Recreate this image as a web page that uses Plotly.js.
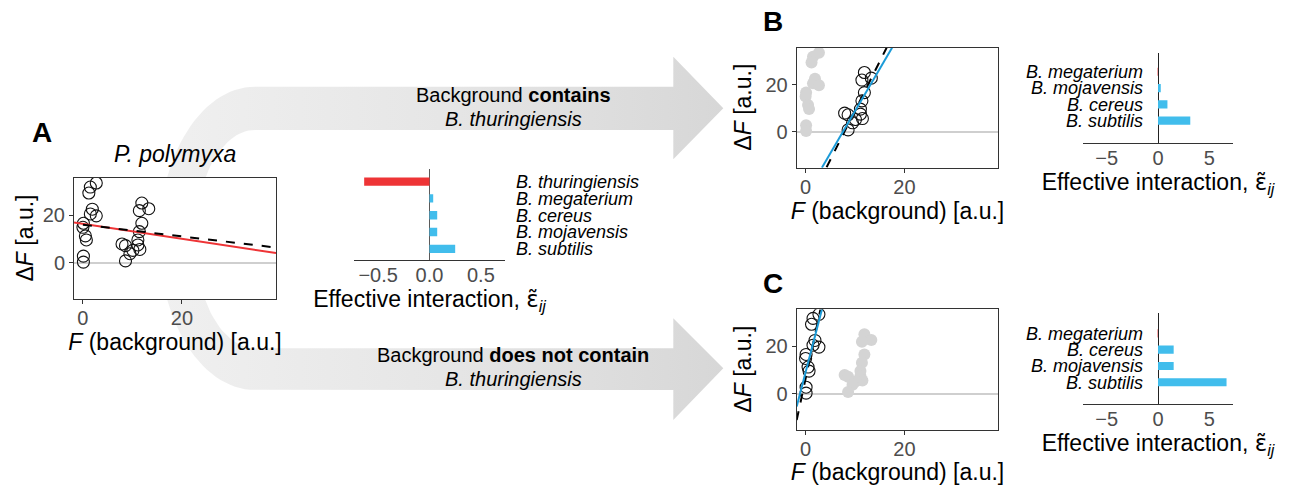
<!DOCTYPE html>
<html>
<head>
<meta charset="utf-8">
<script src="https://cdn.plot.ly/plotly-3.0.1.min.js"></script>
<style>html,body{margin:0;padding:0;background:#fff;}#chart{width:1294px;height:485px;}</style>
</head>
<body>
<div id="chart"></div>
<script>
// ---------------- data ----------------
const leftClusterX  = [2.7, 1.5, 1.2, 1.9, 1.5, 2.7, 0.1, 0.0, 0.5, 0.7, 0.1, 0.1];
const leftClusterY  = [33.5, 31.8, 29.3, 22.5, 20.5, 19.7, 16.6, 14.9, 11.3, 9.6, 2.8, 0.3];
const rightClusterX = [11.9, 13.3, 11.4, 11.9, 11.4, 11.1, 11.1, 11.5, 7.9, 8.6, 10.1, 9.5, 8.6];
const rightClusterY = [25.1, 22.7, 21.9, 16.6, 13.1, 9.6, 7.5, 5.6, 7.9, 7.2, 5.2, 3.8, 0.8];

// fitted lines (end points)
const fitA_x = [-1.8, 39];   const fitA_y = [16.9, 4.1];
const nullA_x = [0, 39];     const nullA_y = [16.0, 6.4];
const fitB_x = [3.3, 17.5];  const fitB_y = [-15.2, 35.6];
const nullB_x = [4.25, 16.4]; const nullB_y = [-15.0, 35.6];
const fitC_x = [-1.8, 3.3];  const fitC_y = [-5.3, 35.5];
const nullC_x = [-1.8, 3.0]; const nullC_y = [-11.0, 35.5];

// effective interactions (top to bottom)
const speciesA = ['B. thuringiensis', 'B. megaterium', 'B. cereus', 'B. mojavensis', 'B. subtilis'];
const epsA     = [-0.636, 0.036, 0.075, 0.075, 0.25];
const speciesB = ['B. megaterium', 'B. mojavensis', 'B. cereus', 'B. subtilis'];
const epsB     = [-0.04, 0.27, 0.92, 3.15];
const speciesC = ['B. megaterium', 'B. cereus', 'B. mojavensis', 'B. subtilis'];
const epsC     = [-0.04, 1.53, 1.53, 6.69];

const scatterTicks = [0, 20];
const barTicksA = [-0.5, 0, 0.5];
const barTicksBC = [-5, 0, 5];

// ---------------- style / layout helpers ----------------
const W = 1294, H = 485;
const fx = px => px / W;
const fy = py => 1 - py / H;
const FONT = 'Liberation Sans, Arial, Helvetica, sans-serif';
const RED = '#ee3436', BLUE_BAR = '#41bdec', BLUE_LINE = '#1b9bd8', GREY_PT = '#d4d4d4';

// decorative double arrow (pixel geometry on an overlay axis)
function arrowPath() {
  const xs = [], ys = [];
  const cx = 255, headBase = 673.3, tip = 723.3;
  const topO = 86.7, topI = 130, botI = 348.3, botO = 390;
  const aO = 96, aI = 60;
  const cyO = (topO + botO) / 2, bO = (botO - topO) / 2;
  const cyI = (topI + botI) / 2, bI = (botI - topI) / 2;
  const push = (x, y) => { xs.push(x); ys.push(y); };
  push(cx, topO); push(headBase, topO); push(headBase, 56.7); push(tip, 108.3);
  push(headBase, 159.3); push(headBase, topI); push(cx, topI);
  for (let i = 0; i <= 60; i++) { const t = -Math.PI / 2 + Math.PI * i / 60; push(cx - aI * Math.cos(t), cyI + bI * Math.sin(t)); }
  push(headBase, botI); push(headBase, 318.3); push(tip, 368.3); push(headBase, 420);
  push(headBase, botO); push(cx, botO);
  for (let i = 0; i <= 60; i++) { const t = Math.PI / 2 - Math.PI * i / 60; push(cx - aO * Math.cos(t), cyO + bO * Math.sin(t)); }
  return [xs, ys];
}
const [arrX, arrY] = arrowPath();

const traces = [];
traces.push({type: 'scatter', x: arrX, y: arrY, xaxis: 'x', yaxis: 'y', mode: 'lines',
  line: {width: 0, color: 'rgba(0,0,0,0)'}, fill: 'toself',
  fillgradient: {type: 'horizontal', colorscale: [[0, '#f0f0f0'], [0.5, '#e6e6e6'], [1, '#d7d7d7']], start: 159, stop: 723},
  hoverinfo: 'skip'});

function openPts(x, y, ax) {
  return {type: 'scatter', mode: 'markers', x: x, y: y, xaxis: 'x' + ax, yaxis: 'y' + ax,
    marker: {symbol: 'circle-open', size: 12, color: '#111', line: {width: 1.1, color: '#111'}}, hoverinfo: 'skip'};
}
function greyPts(x, y, ax) {
  return {type: 'scatter', mode: 'markers', x: x, y: y, xaxis: 'x' + ax, yaxis: 'y' + ax,
    marker: {symbol: 'circle', size: 12, color: GREY_PT}, hoverinfo: 'skip'};
}
function line(x, y, ax, color, dash, width) {
  return {type: 'scatter', mode: 'lines', x: x, y: y, xaxis: 'x' + ax, yaxis: 'y' + ax,
    line: {color: color, dash: dash, width: width}, hoverinfo: 'skip'};
}
function bars(vals, cats, ax) {
  return {type: 'bar', orientation: 'h', x: vals, y: cats, xaxis: 'x' + ax, yaxis: 'y' + ax, width: 0.5,
    marker: {color: vals.map(v => v < 0 ? RED : BLUE_BAR), line: {width: 0}}, hoverinfo: 'skip'};
}

// Panel A
traces.push(openPts(leftClusterX.concat(rightClusterX), leftClusterY.concat(rightClusterY), 2));
traces.push(line(fitA_x, fitA_y, 2, RED, 'solid', 2));
traces.push(line(nullA_x, nullA_y, 2, '#000', 'dash', 2));
traces.push(bars(epsA, speciesA, 3));
// Panel B
traces.push(greyPts(leftClusterX, leftClusterY, 4));
traces.push(openPts(rightClusterX, rightClusterY, 4));
traces.push(line(nullB_x, nullB_y, 4, '#000', 'dash', 2));
traces.push(line(fitB_x, fitB_y, 4, BLUE_LINE, 'solid', 2));
traces.push(bars(epsB, speciesB, 5));
// Panel C
traces.push(greyPts(rightClusterX, rightClusterY, 6));
traces.push(openPts(leftClusterX, leftClusterY, 6));
traces.push(line(nullC_x, nullC_y, 6, '#000', 'dash', 2));
traces.push(line(fitC_x, fitC_y, 6, BLUE_LINE, 'solid', 2));
traces.push(bars(epsC, speciesC, 7));

function scatterX(dom, anchor) {
  return {domain: dom, anchor: anchor, range: [-1.8, 39], tickmode: 'array', tickvals: scatterTicks,
    ticks: 'outside', ticklen: 4, tickwidth: 1, tickcolor: '#333', showline: true, mirror: true,
    linecolor: '#333', linewidth: 1, showgrid: false, zeroline: false, automargin: false, ticklabelstandoff: -3,
    tickfont: {size: 20, color: '#4d4d4d', family: FONT},
    title: {text: '<i>F</i> (background) [a.u.]', font: {size: 23, color: '#000', family: FONT}, standoff: 0}};
}
function scatterY(dom, anchor) {
  return {domain: dom, anchor: anchor, range: [-15.2, 35.6], tickmode: 'array', tickvals: scatterTicks,
    ticks: 'outside', ticklen: 4, tickwidth: 1, tickcolor: '#333', showline: true, mirror: true,
    linecolor: '#333', linewidth: 1, showgrid: false, zeroline: true, zerolinecolor: '#cfcfcf', zerolinewidth: 1.5,
    automargin: false, tickfont: {size: 20, color: '#4d4d4d', family: FONT}};
}
const barTitle = 'Effective interaction, <span style="font-family:DejaVu Sans">ε\u0303</span><sub><i>ij</i></sub>';
function barX(dom, anchor, range, tickvals, fmt, zc, zw) {
  return {domain: dom, anchor: anchor, range: range, tickmode: 'array', tickvals: tickvals, tickformat: fmt,
    ticks: '', showline: true, linecolor: '#333', linewidth: 1, showgrid: false,
    zeroline: true, zerolinecolor: zc, zerolinewidth: zw, automargin: false, ticklabelstandoff: -3,
    tickfont: {size: 20, color: '#4d4d4d', family: FONT},
    title: {text: barTitle, font: {size: 23, color: '#000', family: FONT}, standoff: 0}};
}
function barY(dom, cats, range, extra) {
  const rev = cats.slice().reverse();
  return Object.assign({domain: dom, type: 'category', categoryorder: 'array', categoryarray: rev, range: range,
    tickmode: 'array', tickvals: rev, ticktext: rev, ticks: '', showline: false, showgrid: false, zeroline: false,
    automargin: false, tickfont: {size: 18, color: '#000', family: FONT, style: 'italic'}}, extra);
}

const dA = [fx(74), fx(276)], dAy = [fy(299), fy(178)];
const dAb = [fx(354), fx(505)], dAby = [fy(260), fy(169.3)];
const dB = [fx(796.7), fx(998.3)], dBy = [fy(167.7), fy(47.7)];
const dBb = [fx(1082.7), fx(1233.3)], dBby = [fy(143.3), fy(52.7)];
const dCy = [fy(430), fy(309.3)];
const dCby = [fy(404.3), fy(313.3)];

function ann(text, px, py, size, opts) {
  return Object.assign({text: text, x: fx(px), y: fy(py), xref: 'paper', yref: 'paper', showarrow: false,
    xanchor: 'center', yanchor: 'middle', font: {size: size, color: '#000', family: FONT}}, opts || {});
}

const layout = {
  width: W, height: H, margin: {l: 0, r: 0, t: 0, b: 0}, paper_bgcolor: '#fff', plot_bgcolor: '#fff',
  showlegend: false, hovermode: false, font: {family: FONT},
  xaxis: {domain: [0, 1], range: [0, W], visible: false, fixedrange: true},
  yaxis: {domain: [0, 1], range: [H, 0], visible: false, fixedrange: true},
  xaxis2: scatterX(dA, 'y2'), yaxis2: scatterY(dAy, 'x2'),
  xaxis3: barX(dAb, 'y3', [-0.735, 0.735], barTicksA, '.1f', '#5a5a5a', 1.8),
  yaxis3: barY(dAby, speciesA, [-0.66, 4.73], {anchor: 'x3', side: 'right', ticklabelstandoff: 10}),
  xaxis4: scatterX(dB, 'y4'), yaxis4: scatterY(dBy, 'x4'),
  xaxis5: barX(dBb, 'y5', [-7.35, 7.35], barTicksBC, 'd', '#222', 1),
  yaxis5: barY(dBby, speciesB, [-1.39, 4.17], {anchor: 'free', position: (dBb[0] + dBb[1]) / 2, side: 'left', ticklabelstandoff: 15}),
  xaxis6: scatterX(dB, 'y6'), yaxis6: scatterY(dCy, 'x6'),
  xaxis7: barX(dBb, 'y7', [-7.35, 7.35], barTicksBC, 'd', '#222', 1),
  yaxis7: barY(dCby, speciesC, [-1.35, 4.23], {anchor: 'free', position: (dBb[0] + dBb[1]) / 2, side: 'left', ticklabelstandoff: 15}),
  annotations: [
    ann('<b>A</b>', 30, 132.7, 28, {xanchor: 'left'}),
    ann('<b>B</b>', 761, 21.3, 28, {xanchor: 'left'}),
    ann('<b>C</b>', 761, 283.8, 28, {xanchor: 'left'}),
    ann('<i>P. polymyxa</i>', 175, 154, 23),
    ann('Background <b>contains</b>', 513, 94.8, 20),
    ann('<i>B. thuringiensis</i>', 513, 119.1, 20),
    ann('Background <b>does not contain</b>', 513, 354.8, 20),
    ann('<i>B. thuringiensis</i>', 513, 379.1, 20),
    ann('Δ<i>F</i> [a.u.]', 24, 238.5, 23, {textangle: -90}),
    ann('Δ<i>F</i> [a.u.]', 743, 107.7, 23, {textangle: -90}),
    ann('Δ<i>F</i> [a.u.]', 743, 369.7, 23, {textangle: -90})
  ]
};

Plotly.newPlot('chart', traces, layout, {staticPlot: true, displayModeBar: false});
</script>
</body>
</html>
